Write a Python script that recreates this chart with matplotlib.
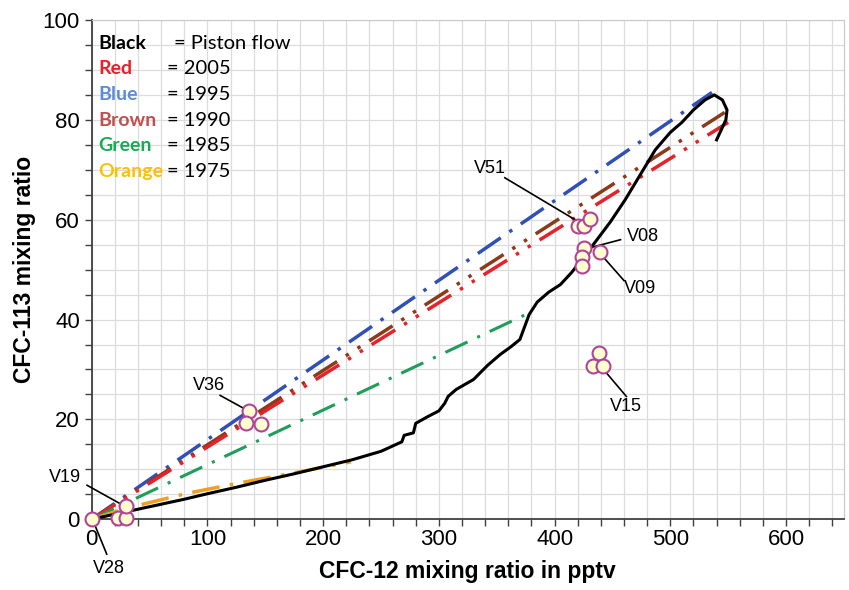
import numpy as np
import matplotlib.pyplot as plt
from matplotlib.ticker import MultipleLocator

# piston flow curve (black)
piston_x = [0, 10, 20, 40, 60, 80, 100, 125, 150, 175, 200, 225, 250, 268, 270, 278, 280,
            290, 300, 305, 308, 315, 330, 342, 353, 362, 370, 374, 378, 385, 395, 405, 415,
            425, 435, 448, 461, 474, 487, 500, 510, 520, 530, 538, 545, 549, 548, 544, 540]
piston_y = [0, 0.5, 1.0, 2.0, 3.0, 4.0, 5.1, 6.4, 7.8, 9.1, 10.5, 11.9, 13.6, 15.5, 16.8, 17.3, 19.2,
            20.5, 21.7, 23.2, 24.6, 26, 28, 30.8, 33, 34.5, 36, 38.5, 41, 43.5, 45.5, 47, 49.5,
            52.5, 55.5, 59.5, 64, 69, 74, 77.5, 79.5, 82, 84, 85, 84, 82, 80, 78, 76]

# mixing lines (start at origin)
blue_x, blue_y = [0, 536], [0, 85.5]      # 1995
brown_x, brown_y = [0, 547], [0, 81.5]    # 1990
red_x, red_y = [0, 550], [0, 79.5]        # 2005
green_x, green_y = [0, 375], [0, 41]      # 1985
orange_x = [0, 30, 83, 126, 180, 224]     # 1975
orange_y = [0, 2.2, 5.2, 7.2, 9.5, 11.5]

# samples
samp_x = [0, 23, 30, 30, 136, 133, 146, 420, 425, 431, 425, 424, 424, 439, 438, 433, 442]
samp_y = [0, 0.2, 0.2, 2.6, 21.6, 19.2, 19.0, 58.8, 58.8, 60.2, 54.4, 52.6, 50.8, 53.6, 33.2, 30.6, 30.6]

# sample labels: name, text pos, leader start, leader end
labels = [
    ("V19", (-23, 8.4), (-4, 6.8), (27, 2.8)),
    ("V28", (15, -9.8), (1.7, -0.6), (13, -7)),
    ("V36", (101, 26.8), (111, 24.8), (133, 22)),
    ("V51", (344, 70.2), (357, 68.4), (422, 59.4)),
    ("V08", (476, 56.6), (431, 54.4), (457, 56)),
    ("V09", (474, 46.2), (441, 52.8), (460, 47.8)),
    ("V15", (462, 22.6), (443, 29.8), (462, 24.6)),
]

legend_names = ["Black", "Red", "Blue", "Brown", "Green", "Orange"]
legend_vals = ["= Piston flow", "= 2005", "= 1995", "= 1990", "= 1985", "= 1975"]
legend_cols = ["black", "#e8202a", "#5b8dd6", "#c0504d", "#1aaa55", "#ffc000"]

fig = plt.figure(figsize=(8.49, 5.90), dpi=100)
ax = fig.add_axes([0.108, 0.12, 0.886, 0.846])

ax.plot(piston_x, piston_y, color="black", lw=2.2, zorder=4)
ax.plot(blue_x, blue_y, color="#3050b8", lw=2.5, dashes=(8, 3, 1, 3), zorder=3)
ax.plot(brown_x, brown_y, color="#8b3a1a", lw=2.5, dashes=(8, 3, 1, 3, 1, 3), zorder=3)
ax.plot(red_x, red_y, color="#e8202a", lw=2.5, dashes=(8, 3, 1, 3, 1, 3), zorder=3)
ax.plot(green_x, green_y, color="#1e9e5a", lw=2.2, dashes=(8, 3.5, 1, 3.5), zorder=3)
ax.plot(orange_x, orange_y, color="#f0a020", lw=2.5, dashes=(8, 3, 1, 3), zorder=3)

ax.scatter(samp_x, samp_y, s=100, facecolor="#ffffd0", edgecolor="#b0449a", lw=1.5,
           zorder=6, clip_on=False)

for name, tpos, p0, p1 in labels:
    ax.plot([p0[0], p1[0]], [p0[1], p1[1]], color="black", lw=1.2, zorder=5, clip_on=False)
    ax.text(tpos[0], tpos[1], name, fontsize=13, ha="center", va="center",
            family="Liberation Sans", clip_on=False)

for i in range(len(legend_names)):
    yy = 95.4 - i * 5.15
    ax.text(5.5, yy, legend_names[i], color=legend_cols[i], fontsize=14, fontweight="bold",
            family="Lato", va="center")
    ax.text(71 if i == 0 else 65.5, yy, legend_vals[i], color="black", fontsize=14.5,
            family="Lato", va="center")

ax.set_xlim(0, 650)
ax.set_ylim(0, 100)
ax.xaxis.set_major_locator(MultipleLocator(100))
ax.xaxis.set_minor_locator(MultipleLocator(20))
ax.yaxis.set_major_locator(MultipleLocator(20))
ax.yaxis.set_minor_locator(MultipleLocator(5))
ax.grid(which="both", color="#dcdcdc", lw=0.9)
ax.set_axisbelow(True)
ax.tick_params(which="both", length=5, width=1, color="#404040", labelsize=16)
for lab in ax.get_xticklabels() + ax.get_yticklabels():
    lab.set_family("Liberation Sans")
ax.tick_params(axis="x", pad=2)
for s in ["left", "bottom"]:
    ax.spines[s].set_color("#404040")
    ax.spines[s].set_linewidth(1.3)
for s in ["top", "right"]:
    ax.spines[s].set_color("#c8c8c8")

ax.set_xlabel("CFC-12 mixing ratio in pptv", fontsize=16.5, fontweight="bold",
              family="Liberation Sans", labelpad=7)
ax.set_ylabel("CFC-113 mixing ratio", fontsize=16.5, fontweight="bold",
              family="Liberation Sans", labelpad=5)

plt.savefig("out.png", dpi=100)
